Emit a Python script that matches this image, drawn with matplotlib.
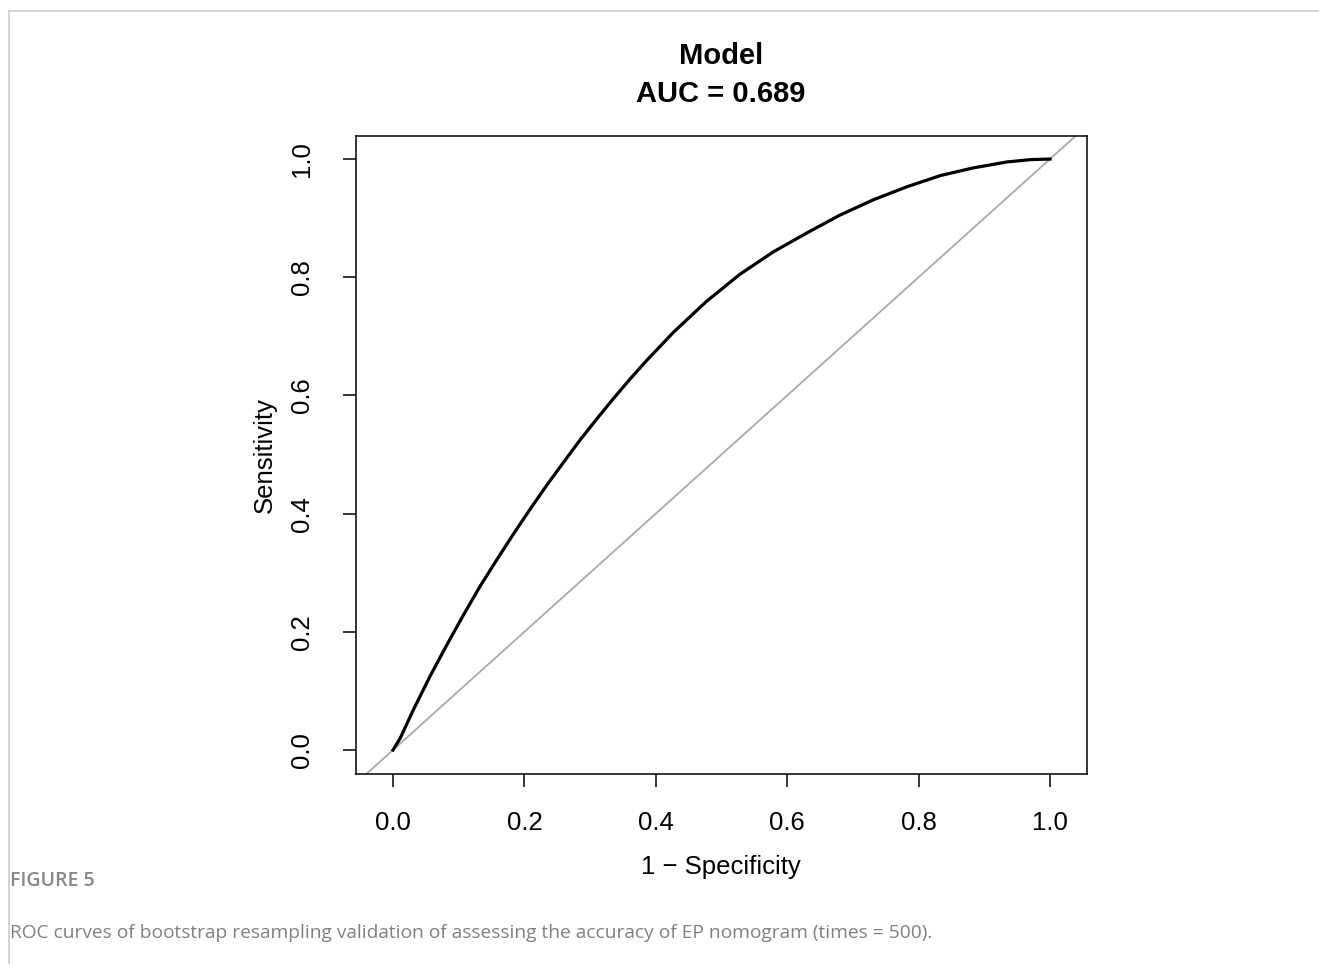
import matplotlib
matplotlib.use("Agg")
import matplotlib.pyplot as plt
from matplotlib.lines import Line2D

# smoothed ROC curve
fpr = [0.0, 0.011, 0.031, 0.056, 0.082, 0.107, 0.132, 0.158, 0.183, 0.209,
       0.234, 0.259, 0.285, 0.310, 0.335, 0.361, 0.386, 0.427, 0.477, 0.528,
       0.579, 0.630, 0.680, 0.731, 0.782, 0.833, 0.883, 0.934, 0.970, 1.0]
tpr = [0.0, 0.020, 0.068, 0.124, 0.178, 0.228, 0.276, 0.322, 0.365, 0.408,
       0.448, 0.486, 0.525, 0.560, 0.594, 0.628, 0.659, 0.707, 0.759, 0.805,
       0.843, 0.875, 0.905, 0.931, 0.953, 0.972, 0.985, 0.995, 0.999, 1.0]
ticks = [0.0, 0.2, 0.4, 0.6, 0.8, 1.0]
tick_labels = ["0.0", "0.2", "0.4", "0.6", "0.8", "1.0"]
auc = 0.689

plt.rcParams['font.family'] = ['Liberation Sans', 'DejaVu Sans']

W, H = 1319, 964
fig = plt.figure(figsize=(W / 100, H / 100), dpi=100)

# page frame (top + left)
fig.add_artist(Line2D([9 / W, 1], [1 - 11 / H, 1 - 11 / H], color='#cccccc', lw=1.2))
fig.add_artist(Line2D([9 / W, 9 / W], [0, 1 - 11 / H], color='#cccccc', lw=1.2))

ax = fig.add_axes([356 / W, 1 - 774 / H, (1087 - 356) / W, (774 - 136) / H])
ax.axline((0, 0), (1, 1), color='#a9a9a9', lw=1.3)
ax.plot(fpr, tpr, color='black', lw=2.3, solid_joinstyle='round')

ax.set_xlim(-0.0563, 1.0563)
ax.set_ylim(-0.0406, 1.039)
ax.set_xticks(ticks)
ax.set_xticklabels(tick_labels, fontsize=18.5)
ax.set_yticks(ticks)
ax.set_yticklabels(tick_labels, fontsize=18.5, rotation=90, va='center')
ax.tick_params(axis='both', length=9.5, width=1.1, color='black')
ax.tick_params(axis='x', pad=17)
ax.tick_params(axis='y', pad=21)
for s in ax.spines.values():
    s.set_linewidth(1.1)

fig.text(265 / W, 1 - 455 / H, "Sensitivity", rotation=90, fontsize=18.5,
         ha='center', va='center')
fig.text(721 / W, 1 - 867 / H, "1 \u2212 Specificity", fontsize=18.5,
         ha='center', va='center')

fig.text(721 / W, 1 - 56 / H, "Model", fontsize=21, fontweight='bold',
         ha='center', va='center')
fig.text(721 / W, 1 - 94 / H, "AUC = %.3f" % auc, fontsize=21, fontweight='bold',
         ha='center', va='center')

fig.text(10 / W, 1 - 881 / H, "FIGURE 5", fontsize=14, color='#888888',
         family='Open Sans', fontweight='semibold', ha='left', va='center')
fig.text(10 / W, 1 - 933 / H,
         "ROC curves of bootstrap resampling validation of assessing the accuracy of EP nomogram (times = 500).",
         fontsize=13.8, color='#808080', family='Open Sans', ha='left', va='center')

fig.savefig("out.png", dpi=100)
